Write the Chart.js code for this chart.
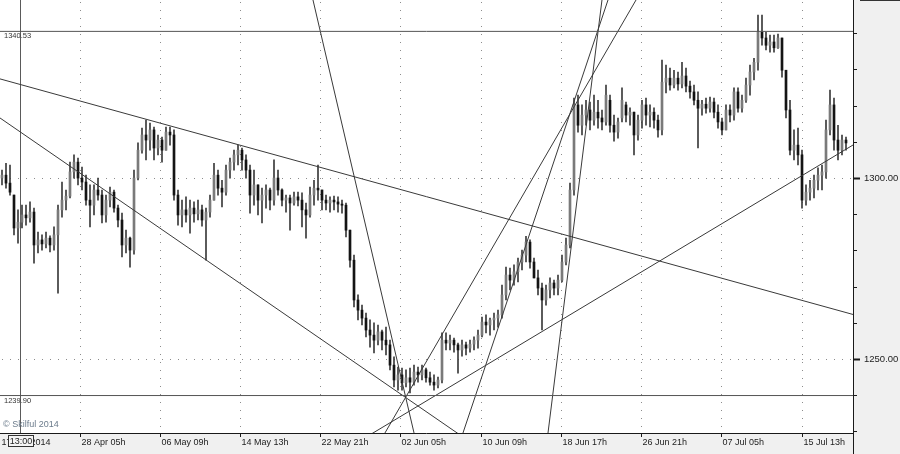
<!DOCTYPE html>
<html>
<head>
<meta charset="utf-8">
<title>Gold H4</title>
<script src="https://cdn.jsdelivr.net/npm/chart.js@4.4.1/dist/chart.umd.min.js"></script>
<style>
  html, body { margin: 0; padding: 0; background: #f0f0f0; }
  #wrap { position: relative; width: 900px; height: 454px; }
</style>
</head>
<body>
<div id="wrap"><canvas id="chart"></canvas></div>
<script>
// H4 candles (one candle per 4px column)
const opens = [
  1300.0,1300.8,1298.6,1295.3,1286.2,1287.8,1289.8,1289.0,1290.6,1281.5,
  1282.9,1281.8,1283.4,1281.5,1284.3,1291.2,1293.9,1295.0,1301.7,1304.4,
  1300.0,1298.9,1293.9,1292.5,1296.7,1295.3,1289.8,1293.9,1296.1,1291.7,
  1288.4,1281.5,1283.4,1280.1,1300.0,1307.7,1311.9,1310.5,1313.3,1308.3,
  1310.5,1307.7,1312.7,1311.9,1295.3,1289.8,1291.2,1289.8,1291.7,1290.1,
  1291.2,1288.4,1290.6,1293.9,1300.8,1297.2,1296.1,1302.2,1304.4,1306.4,
  1307.7,1305.0,1302.2,1295.3,1298.1,1293.9,1295.3,1296.7,1293.9,1300.0,
  1296.7,1293.9,1294.5,1293.1,1294.8,1293.9,1291.2,1289.8,1295.3,1297.2,
  1296.7,1293.9,1293.1,1293.9,1293.4,1292.8,1292.5,1285.6,1277.3,1266.3,
  1263.5,1261.3,1258.0,1256.6,1255.2,1257.5,1255.2,1253.9,1248.3,1244.2,
  1245.6,1243.4,1244.8,1243.6,1246.4,1245.6,1247.0,1244.8,1243.6,1242.8,
  1244.2,1255.2,1254.4,1255.2,1253.9,1252.5,1253.9,1253.0,1254.1,1255.2,
  1256.6,1260.2,1259.4,1260.8,1261.3,1262.2,1267.7,1273.2,1271.8,1274.1,
  1276.8,1278.7,1282.3,1276.8,1272.4,1269.6,1266.3,1269.1,1271.0,1269.6,
  1271.8,1276.8,1281.5,1296.7,1320.2,1314.6,1317.4,1318.8,1316.0,1318.2,
  1316.6,1315.5,1321.5,1314.6,1312.7,1316.6,1320.2,1317.4,1318.2,1311.9,
  1316.0,1320.2,1317.4,1318.2,1316.0,1313.3,1326.5,1327.6,1325.7,1327.6,
  1326.0,1328.2,1325.4,1323.8,1321.5,1319.3,1320.4,1319.3,1321.0,1318.2,
  1315.5,1313.3,1318.8,1317.4,1323.8,1319.3,1321.5,1325.7,1329.3,1332.0,
  1340.3,1338.7,1336.7,1337.6,1336.0,1338.7,1329.8,1318.8,1307.7,1309.1,
  1306.4,1293.9,1296.1,1297.2,1299.4,1300.8,1301.7,1313.3,1320.2,1310.5,
  1307.7,1310.5
];
const highs = [
  1302.2,1304.1,1303.6,1295.3,1291.2,1292.5,1292.5,1293.4,1291.7,1285.1,
  1284.3,1285.1,1284.0,1286.5,1292.5,1298.9,1296.7,1304.4,1306.4,1305.5,
  1303.0,1300.8,1298.1,1298.1,1300.0,1296.7,1295.3,1297.5,1296.7,1292.5,
  1290.3,1285.6,1283.7,1302.2,1309.7,1313.8,1316.0,1315.2,1314.1,1311.9,
  1311.3,1314.1,1314.1,1313.3,1296.7,1293.9,1294.8,1293.9,1293.4,1293.9,
  1292.5,1291.7,1295.3,1304.1,1302.2,1299.4,1303.6,1305.5,1307.7,1309.1,
  1308.3,1306.4,1303.6,1302.2,1298.1,1297.2,1298.1,1297.2,1305.0,1302.2,
  1297.0,1295.3,1295.3,1296.1,1296.1,1295.9,1293.1,1297.5,1299.4,1303.6,
  1296.7,1295.3,1294.8,1295.0,1294.8,1293.9,1293.1,1285.6,1278.7,1267.7,
  1264.9,1262.7,1260.8,1260.0,1259.4,1258.0,1258.8,1255.2,1250.6,1247.8,
  1247.5,1247.0,1247.5,1248.3,1247.8,1248.3,1247.5,1246.4,1245.6,1245.0,
  1257.2,1257.2,1256.6,1255.8,1254.4,1255.2,1254.7,1255.2,1256.1,1258.0,
  1261.6,1262.2,1261.3,1262.7,1263.5,1270.4,1275.4,1275.1,1276.0,1277.9,
  1280.1,1283.9,1282.9,1277.9,1274.6,1271.0,1270.4,1272.4,1271.8,1273.2,
  1278.7,1283.4,1298.6,1322.1,1322.9,1320.2,1321.5,1321.0,1322.9,1321.5,
  1318.8,1325.7,1322.9,1317.4,1316.6,1324.9,1321.0,1319.4,1318.2,1317.4,
  1321.5,1322.1,1320.2,1319.4,1317.4,1332.6,1331.2,1330.4,1329.8,1329.3,
  1332.0,1330.4,1326.8,1325.7,1323.8,1321.5,1322.1,1322.4,1322.1,1320.2,
  1316.6,1320.2,1320.2,1324.9,1324.9,1322.9,1327.6,1331.2,1333.1,1345.0,
  1345.0,1340.3,1339.5,1339.5,1339.8,1338.7,1329.8,1321.5,1313.3,1313.8,
  1307.7,1298.1,1299.4,1300.8,1302.8,1303.6,1316.0,1324.3,1322.1,1314.6,
  1311.9,1311.3
];
const lows = [
  1298.1,1297.2,1295.3,1284.3,1282.0,1286.2,1287.0,1287.8,1276.5,1279.3,
  1280.1,1280.7,1279.6,1280.1,1268.2,1289.2,1291.2,1294.5,1300.0,1298.1,
  1296.7,1292.5,1286.5,1289.8,1293.9,1287.6,1287.8,1292.0,1290.6,1286.5,
  1278.2,1279.3,1275.4,1279.0,1299.5,1306.9,1305.0,1307.7,1305.0,1306.4,
  1304.4,1307.7,1309.1,1293.9,1287.0,1286.5,1287.8,1284.8,1287.8,1288.4,
  1286.7,1277.3,1289.2,1293.9,1295.3,1292.0,1295.3,1300.0,1302.2,1303.6,
  1302.2,1300.0,1290.3,1292.5,1289.8,1287.6,1291.7,1291.2,1292.5,1295.3,
  1292.3,1290.6,1285.6,1292.5,1292.3,1286.5,1283.4,1289.2,1292.5,1293.9,
  1291.2,1291.2,1290.6,1291.2,1290.6,1290.3,1283.7,1275.4,1264.4,1260.8,
  1259.4,1256.1,1253.3,1251.7,1253.9,1252.5,1251.1,1247.0,1242.3,1241.4,
  1241.4,1242.3,1240.6,1242.8,1243.6,1244.2,1243.6,1242.8,1241.4,1242.0,
  1243.4,1252.5,1252.5,1251.9,1246.1,1250.8,1251.1,1251.9,1252.5,1253.0,
  1256.1,1257.2,1256.6,1258.0,1258.8,1261.3,1266.3,1269.1,1270.4,1271.3,
  1274.6,1276.8,1275.1,1272.4,1267.7,1258.0,1264.9,1266.9,1267.7,1267.7,
  1271.3,1276.0,1280.7,1295.3,1312.7,1311.9,1314.6,1313.3,1314.6,1313.8,
  1313.3,1314.6,1312.7,1310.2,1311.0,1315.5,1315.5,1314.6,1306.4,1310.5,
  1313.8,1314.6,1314.1,1313.8,1311.3,1311.9,1323.5,1324.3,1324.9,1324.3,
  1324.9,1323.8,1322.1,1320.2,1308.3,1317.4,1317.9,1318.2,1316.6,1313.8,
  1311.9,1313.3,1315.5,1316.0,1318.2,1318.2,1320.9,1322.9,1327.1,1329.8,
  1336.7,1335.4,1334.8,1334.8,1335.8,1327.9,1316.6,1306.4,1305.0,1303.6,
  1291.7,1292.5,1293.9,1294.5,1296.7,1296.7,1300.0,1311.9,1307.7,1305.0,
  1306.4,1307.7
];
const closes = [
  1300.8,1298.6,1296.1,1286.2,1287.8,1289.8,1289.0,1290.6,1281.5,1282.9,
  1281.8,1283.4,1281.5,1284.3,1291.2,1293.9,1295.0,1301.7,1304.4,1300.0,
  1298.9,1293.9,1292.5,1296.7,1295.3,1289.8,1293.9,1296.1,1291.7,1288.4,
  1281.5,1283.4,1280.1,1300.0,1307.7,1311.9,1310.5,1313.3,1308.3,1310.5,
  1307.7,1312.7,1311.9,1295.3,1289.8,1291.2,1289.8,1291.7,1290.1,1291.2,
  1288.4,1290.6,1293.9,1300.8,1297.2,1296.1,1302.2,1304.4,1306.4,1307.7,
  1305.0,1302.2,1295.3,1298.1,1293.9,1295.3,1296.7,1293.9,1300.0,1296.7,
  1293.9,1294.5,1293.1,1294.8,1293.9,1291.2,1289.8,1295.3,1297.2,1296.7,
  1293.9,1293.1,1293.9,1293.4,1292.8,1292.5,1285.6,1277.3,1266.3,1263.5,
  1261.3,1258.0,1256.6,1255.2,1257.5,1255.2,1253.9,1248.3,1244.2,1245.6,
  1243.4,1244.8,1243.6,1246.4,1245.6,1247.0,1244.8,1243.6,1242.8,1244.2,
  1255.2,1254.4,1255.2,1253.9,1252.5,1253.9,1253.0,1254.1,1255.2,1256.6,
  1260.2,1259.4,1260.8,1261.3,1262.2,1267.7,1273.2,1271.8,1274.1,1276.8,
  1278.7,1282.3,1276.8,1272.4,1269.6,1266.3,1269.1,1271.0,1269.6,1271.8,
  1276.8,1281.5,1296.7,1320.2,1314.6,1317.4,1318.8,1316.0,1318.2,1316.6,
  1315.5,1322.9,1314.6,1312.7,1315.5,1321.5,1317.4,1318.2,1311.9,1316.0,
  1320.2,1317.4,1318.2,1316.0,1313.3,1326.5,1327.6,1325.7,1327.6,1326.0,
  1328.2,1325.4,1323.8,1321.5,1319.3,1320.4,1319.3,1321.0,1318.2,1315.5,
  1313.3,1318.8,1317.4,1323.8,1319.3,1321.5,1325.7,1329.3,1332.0,1340.3,
  1338.7,1336.7,1337.6,1336.0,1338.7,1329.8,1318.8,1307.7,1309.1,1306.4,
  1293.9,1296.1,1297.2,1299.4,1300.8,1301.7,1313.3,1320.2,1310.5,1307.7,
  1310.5,1309.7
];

// time axis labels and where they sit (in candle units)
const xTickPos = [0, 20, 40, 60, 80.1, 100.1, 120.2, 140.2, 160.2, 180.2, 200.4];
const xTickLabels = ['17 Apr 2014', '28 Apr 05h', '06 May 09h', '14 May 13h', '22 May 21h',
  '02 Jun 05h', '10 Jun 09h', '18 Jun 17h', '26 Jun 21h', '07 Jul 05h', '15 Jul 13h'];
const yMinorTicks = [1230, 1240, 1250, 1260, 1270, 1280, 1290, 1300, 1310, 1320, 1330, 1340];
const yMajorTicks = [1250, 1300];
const levels = [1340.53, 1239.90];
const crossX = 5;
const crossLabel = '13:00';

// drawn trendlines: [x1, price1, x2, price2]
const trendLines = [
  [0, 1327.4, 213.25, 1262.3],
  [0, 1316.6, 125, 1221.4],
  [77, 1355.1, 105, 1222.5],
  [90, 1227.4, 213.25, 1309.13],
  [95, 1227.2, 161, 1353.0],
  [115, 1227.1, 153, 1352.5],
  [136.8, 1227.8, 150.8, 1351.9]
];

const X_MAX = 213.25;
const Y_MIN = 1229.55;
const Y_MAX = 1349.2;
const FONT = '"Liberation Sans", Arial, sans-serif';

const wickData = highs.map((h, i) => ({ x: i + 0.5, y: [lows[i], h] }));
const bodyData = opens.map((o, i) => ({ x: i + 0.5, y: [o, closes[i]] }));
const bodyColors = opens.map((o, i) => closes[i] >= o ? '#7a7a7a' : '#141414');

const lineSet = (pts, color) => ({
  type: 'line',
  data: pts,
  borderColor: color,
  borderWidth: 1,
  pointRadius: 0,
  clip: 0,
  order: 0
});

const datasets = [
  { type: 'bar', data: wickData, barThickness: 1, backgroundColor: '#3a3a3a', grouped: false, order: 2 },
  { type: 'bar', data: bodyData, barThickness: 2, minBarLength: 1, backgroundColor: bodyColors, grouped: false, order: 1 },
  ...levels.map(v => lineSet([{ x: 0, y: v }, { x: X_MAX, y: v }], '#555555')),
  ...trendLines.map(t => lineSet([{ x: t[0], y: t[1] }, { x: t[2], y: t[3] }], '#3a3a3a'))
];

// background, grid, axes and texts
const frame = {
  id: 'frame',
  beforeDraw(chart) {
    const { ctx, chartArea: a, width, height } = chart;
    ctx.save();
    ctx.fillStyle = '#f0f0f0';
    ctx.fillRect(0, 0, width, height);
    ctx.fillStyle = '#ffffff';
    ctx.fillRect(a.left, a.top, a.right - a.left, a.bottom - a.top);
    ctx.restore();
  },
  beforeDatasetsDraw(chart) {
    const { ctx, chartArea: a, scales: { x, y } } = chart;
    ctx.save();
    ctx.strokeStyle = '#8c8c8c';
    ctx.lineWidth = 1;
    ctx.setLineDash([1, 7]);
    xTickPos.slice(1).forEach(v => {
      const px = Math.round(x.getPixelForValue(v)) + 0.5;
      ctx.beginPath(); ctx.moveTo(px, a.top + 2); ctx.lineTo(px, a.bottom); ctx.stroke();
    });
    yMajorTicks.forEach(v => {
      const py = Math.round(y.getPixelForValue(v)) + 0.5;
      ctx.beginPath(); ctx.moveTo(a.left + 2, py); ctx.lineTo(a.right, py); ctx.stroke();
    });
    ctx.setLineDash([]);
    // cursor line
    const cx = Math.round(x.getPixelForValue(crossX)) + 0.5;
    ctx.strokeStyle = '#5a5a5a';
    ctx.beginPath(); ctx.moveTo(cx, a.top); ctx.lineTo(cx, a.bottom); ctx.stroke();
    ctx.restore();
  },
  afterDraw(chart) {
    const { ctx, chartArea: a, scales: { x, y }, width, height } = chart;
    ctx.save();
    ctx.strokeStyle = '#1a1a1a';
    ctx.lineWidth = 1;
    // axis borders
    ctx.beginPath();
    ctx.moveTo(a.right + 0.5, 0); ctx.lineTo(a.right + 0.5, height);
    ctx.moveTo(0, a.bottom + 0.5); ctx.lineTo(a.right, a.bottom + 0.5);
    ctx.stroke();
    ctx.fillStyle = '#333333';
    ctx.fillRect(a.right + 7, 0, width - a.right - 7, 1);

    // price ticks
    yMinorTicks.forEach(v => {
      const py = Math.round(y.getPixelForValue(v)) + 0.5;
      ctx.beginPath(); ctx.moveTo(a.right, py); ctx.lineTo(a.right + 4, py); ctx.stroke();
    });
    ctx.font = '9.5px ' + FONT;
    ctx.textBaseline = 'middle';
    ctx.textAlign = 'left';
    yMajorTicks.forEach(v => {
      const py = Math.round(y.getPixelForValue(v));
      ctx.fillStyle = '#1a1a1a';
      ctx.fillRect(a.right, py - 0.5, 7, 2);
      ctx.fillStyle = '#222222';
      ctx.fillText(v.toFixed(2), a.right + 11, py + 0.5);
    });

    // time ticks
    ctx.font = '9px ' + FONT;
    xTickPos.forEach((v, i) => {
      const px = Math.round(x.getPixelForValue(v)) + 0.5;
      if (i > 0) {
        ctx.beginPath(); ctx.moveTo(px, a.bottom); ctx.lineTo(px, a.bottom + 4); ctx.stroke();
      }
      ctx.fillStyle = '#222222';
      ctx.fillText(xTickLabels[i], px + 1, a.bottom + 10);
    });

    // level captions
    ctx.font = '7.5px ' + FONT;
    ctx.fillStyle = '#333333';
    levels.forEach(v => ctx.fillText(v.toFixed(2), a.left + 4, y.getPixelForValue(v) + 5));

    ctx.font = '9px ' + FONT;
    ctx.fillStyle = '#6b7b8b';
    ctx.fillText('\u00a9 Skilful 2014', a.left + 3, a.bottom - 8);

    // cursor time box
    const cx = Math.round(x.getPixelForValue(crossX));
    ctx.fillStyle = '#f4f4f4';
    ctx.fillRect(cx - 12, a.bottom + 2, 26, 12);
    ctx.strokeStyle = '#333333';
    ctx.strokeRect(cx - 11.5, a.bottom + 2.5, 25, 11);
    ctx.fillStyle = '#222222';
    ctx.textAlign = 'center';
    ctx.fillText(crossLabel, cx + 1, a.bottom + 8.5);
    ctx.restore();
  }
};

new Chart(document.getElementById('chart'), {
  type: 'bar',
  data: { datasets },
  options: {
    responsive: true,
    maintainAspectRatio: false,
    animation: false,
    events: [],
    layout: { padding: 0 },
    plugins: { legend: { display: false }, tooltip: { enabled: false } },
    scales: {
      x: {
        type: 'linear', min: 0, max: X_MAX, offset: false,
        grid: { display: false }, border: { display: false }, ticks: { display: false },
        afterFit: s => { s.height = 21; }
      },
      y: {
        type: 'linear', position: 'right', min: Y_MIN, max: Y_MAX,
        grid: { display: false }, border: { display: false }, ticks: { display: false },
        afterFit: s => { s.width = 47; }
      }
    }
  },
  plugins: [frame]
});
</script>
</body>
</html>
